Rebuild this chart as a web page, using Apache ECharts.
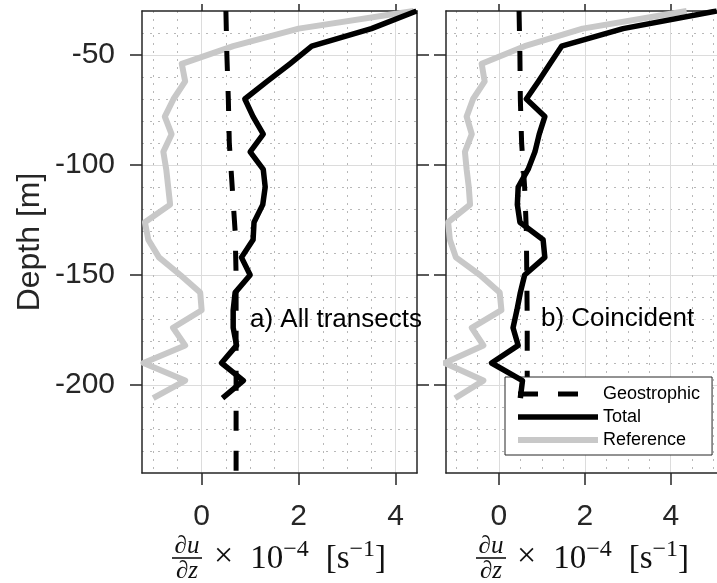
<!DOCTYPE html>
<html><head><meta charset="utf-8">
<script src="https://cdn.jsdelivr.net/npm/echarts@6/dist/echarts.min.js"></script>
<style>html,body{margin:0;padding:0;background:#fff}#c{width:717px;height:583px}</style>
</head><body><div id="c"></div>
<script>
// ---- data ----
const depths = [-30, -38, -46, -54, -62, -70, -78, -86, -94, -102, -110, -118, -126, -134, -142, -150, -158, -166, -174, -182, -190, -198, -206];
// panel a) All transects
const totalA = [4.43, 3.5, 2.27, 1.82, 1.35, 0.89, 1.06, 1.27, 1.0, 1.27, 1.31, 1.26, 1.08, 1.06, 0.82, 1.0, 0.69, 0.65, 0.65, 0.72, 0.41, 0.86, 0.43];
const refA   = [4.37, 2.0, 0.65, -0.41, -0.34, -0.58, -0.76, -0.62, -0.79, -0.73, -0.69, -0.65, -1.17, -1.10, -0.88, -0.44, -0.03, 0.0, -0.59, -0.34, -1.2, -0.34, -1.0];
const geoDepthsA = [-30, -50, -70, -90, -110, -130, -150, -170, -190, -210, -240];
const geoA       = [0.50, 0.52, 0.55, 0.57, 0.63, 0.69, 0.71, 0.71, 0.71, 0.71, 0.71];
// panel b) Coincident
const totalB = [5.07, 2.89, 1.46, 1.19, 0.92, 0.64, 1.07, 0.94, 0.84, 0.68, 0.45, 0.43, 0.49, 1.03, 1.07, 0.60, 0.50, 0.42, 0.33, 0.45, -0.17, 0.55, 0.5];
const refB   = [4.37, 1.95, 0.6, -0.40, -0.33, -0.60, -0.75, -0.63, -0.79, -0.75, -0.70, -0.67, -1.18, -1.14, -1.0, -0.44, 0.02, 0.06, -0.63, -0.36, -1.26, -0.36, -1.02];
const geoDepthsB = [-30, -50, -70, -90, -110, -130, -150, -170, -190, -206];
const geoB       = [0.47, 0.49, 0.50, 0.53, 0.60, 0.64, 0.65, 0.66, 0.66, 0.66];
// axes
const xTicks = [0, 2, 4];
const xTickLabels = ['0', '2', '4'];
const yTicks = [-50, -100, -150, -200];
const yTickLabels = ['-50', '-100', '-150', '-200'];
const xMinor = [-1, -0.5, 0.5, 1, 1.5, 2.5, 3, 3.5, 4.5, 5];
const yMinor = [-230, -220, -210, -190, -180, -170, -160, -140, -130, -120, -110, -90, -80, -70, -60, -40];
const xRangeA = [-1.23, 4.44];
const xRangeB = [-1.23, 5.17];
const yRange = [-240, -30];
const seriesNames = ['Geostrophic', 'Total', 'Reference'];
const panelTitles = ['a) All transects', 'b) Coincident'];

// ---- chart ----
const SANS = 'Liberation Sans, Arial, Helvetica, sans-serif';
const SERIF = 'Liberation Serif, DejaVu Serif, Times New Roman, serif';
const AX = '#262626';
const GRAY = '#c8c8c8';

function inR(vals, r) { return vals.filter(v => v >= r[0] && v <= r[1]); }

function xAxesFor(gi, r) {
  return [
    { gridIndex: gi, type: 'value', position: 'bottom', min: r[0], max: r[1],
      axisLine: { show: true, onZero: false, lineStyle: { color: AX, width: 1.5 } },
      axisTick: { show: true, inside: false, length: 12, customValues: xTicks, lineStyle: { color: AX, width: 1.5 } },
      axisLabel: { show: true, customValues: xTicks, margin: 29, fontSize: 30, color: AX, fontFamily: SANS,
        formatter: v => xTickLabels[xTicks.indexOf(v)] },
      splitLine: { show: true, lineStyle: { color: '#dcdcdc', width: 1 } } },
    { gridIndex: gi, type: 'value', position: 'top', min: r[0], max: r[1],
      axisLine: { show: true, onZero: false, lineStyle: { color: AX, width: 1.5 } },
      axisTick: { show: true, inside: false, length: 7, customValues: xTicks, lineStyle: { color: AX, width: 1.5 } },
      axisLabel: { show: false }, splitLine: { show: false } },
    { gridIndex: gi, type: 'value', position: 'bottom', min: r[0], max: r[1],
      axisLine: { show: false, onZero: false },
      axisTick: { show: false, customValues: inR(xMinor, r) },
      axisLabel: { show: false },
      splitLine: { show: true, lineStyle: { color: '#b8b8b8', width: 1, type: [2, 6] } } }
  ];
}
function yAxesFor(gi, withLabels) {
  const main = { gridIndex: gi, type: 'value', position: 'left', min: yRange[0], max: yRange[1],
      axisLine: { show: true, onZero: false, lineStyle: { color: AX, width: 1.5 } },
      axisTick: { show: true, inside: false, length: 12, customValues: yTicks, lineStyle: { color: AX, width: 1.5 } },
      axisLabel: { show: withLabels, customValues: yTicks, margin: 27, fontSize: 30, color: AX, fontFamily: SANS,
        formatter: v => yTickLabels[yTicks.indexOf(v)] },
      splitLine: { show: true, lineStyle: { color: '#dcdcdc', width: 1 } } };
  if (withLabels) {
    main.name = 'Depth [m]';
    main.nameLocation = 'middle';
    main.nameGap = 96;
    main.nameTextStyle = { fontSize: 32, color: AX, fontFamily: SANS };
  }
  return [
    main,
    { gridIndex: gi, type: 'value', position: 'right', min: yRange[0], max: yRange[1],
      axisLine: { show: true, onZero: false, lineStyle: { color: AX, width: 1.5 } },
      axisTick: { show: true, inside: false, length: 12, customValues: yTicks, lineStyle: { color: AX, width: 1.5 } },
      axisLabel: { show: false }, splitLine: { show: false } },
    { gridIndex: gi, type: 'value', position: 'left', min: yRange[0], max: yRange[1],
      axisLine: { show: false, onZero: false },
      axisTick: { show: false, customValues: yMinor },
      axisLabel: { show: false },
      splitLine: { show: true, lineStyle: { color: '#b8b8b8', width: 1, type: [2, 6] } } }
  ];
}

function pairs(xs, ds) { return ds.map((d, i) => [xs[i], d]); }

function panelSeries(axisIdx, geo, geoD, tot, ref) {
  return [
    { name: seriesNames[2], type: 'line', xAxisIndex: axisIdx, yAxisIndex: axisIdx, data: pairs(ref, depths),
      symbol: 'none', lineStyle: { color: GRAY, width: 6, join: 'round' }, itemStyle: { color: GRAY }, z: 2 },
    { name: seriesNames[0], type: 'line', xAxisIndex: axisIdx, yAxisIndex: axisIdx, data: pairs(geo, geoD),
      symbol: 'none', lineStyle: { color: '#000', width: 5, type: [20, 20] }, itemStyle: { color: '#000' }, z: 3 },
    { name: seriesNames[1], type: 'line', xAxisIndex: axisIdx, yAxisIndex: axisIdx, data: pairs(tot, depths),
      symbol: 'none', lineStyle: { color: '#000', width: 5.5, join: 'round' }, itemStyle: { color: '#000' }, z: 4 }
  ];
}

function mathLabel(fx, restX) {
  return [
    { type: 'text', x: fx, y: 546, style: { text: '∂u', fontSize: 25, fontFamily: SERIF, fontStyle: 'italic', fill: '#111', align: 'center', verticalAlign: 'middle' } },
    { type: 'line', shape: { x1: fx - 15, y1: 558, x2: fx + 15, y2: 558 }, style: { stroke: '#111', lineWidth: 1.6 } },
    { type: 'text', x: fx, y: 571, style: { text: '∂z', fontSize: 25, fontFamily: SERIF, fontStyle: 'italic', fill: '#111', align: 'center', verticalAlign: 'middle' } },
    { type: 'text', x: restX, y: 557, style: {
      text: '{op|×}{g1| }{n|10}{sup|−4}{g2| }{n|[s}{sup|−1}{n|]}',
      align: 'left', verticalAlign: 'middle', fill: '#111',
      rich: {
        op: { fontSize: 34, fontFamily: SERIF, verticalAlign: 'middle', lineHeight: 38 },
        g1: { width: 17, fontSize: 10 },
        g2: { width: 17, fontSize: 10 },
        n: { fontSize: 33, fontFamily: SERIF, verticalAlign: 'bottom', lineHeight: 38 },
        sup: { fontSize: 24, fontFamily: SERIF, verticalAlign: 'top', lineHeight: 38 }
      } } }
  ];
}

const chart = echarts.init(document.getElementById('c'), null, { renderer: 'canvas' });
chart.setOption({
  animation: false,
  backgroundColor: '#fff',
  grid: [
    { left: 142, top: 11, width: 275, height: 462, containLabel: false, outerBoundsMode: 'none' },
    { left: 446, top: 11, width: 275, height: 462, containLabel: false, outerBoundsMode: 'none' }
  ],
  xAxis: [...xAxesFor(0, xRangeA), ...xAxesFor(1, xRangeB)],
  yAxis: [...yAxesFor(0, true), ...yAxesFor(1, false)],
  legend: {
    data: [
      { name: seriesNames[0], lineStyle: { width: 5, color: '#000', type: [20, 20] } },
      { name: seriesNames[1], lineStyle: { width: 5.5, color: '#000', type: 'solid' } },
      { name: seriesNames[2], lineStyle: { width: 6, color: GRAY, type: 'solid' } }
    ],
    orient: 'vertical', left: 505, top: 377,
    itemWidth: 80, itemHeight: 14, itemGap: 5, padding: [8, 12, 6, 10],
    itemStyle: { color: 'rgba(0,0,0,0)', borderWidth: 0, opacity: 0 },
    backgroundColor: '#fff', borderColor: AX, borderWidth: 1, borderRadius: 0,
    selectedMode: false, textStyle: { fontSize: 18, color: '#000', fontFamily: SANS }
  },
  series: [
    ...panelSeries(0, geoA, geoDepthsA, totalA, refA),
    ...panelSeries(3, geoB, geoDepthsB, totalB, refB)
  ],
  graphic: [
    { type: 'text', x: 250, y: 320, style: { text: panelTitles[0], fontSize: 26, fontFamily: SANS, fill: '#000', verticalAlign: 'middle' }, z: 10 },
    { type: 'text', x: 541, y: 319, style: { text: panelTitles[1], fontSize: 26, fontFamily: SANS, fill: '#000', verticalAlign: 'middle' }, z: 10 },
    ...mathLabel(187, 214),
    ...mathLabel(491, 517)
  ]
});
</script></body></html>
